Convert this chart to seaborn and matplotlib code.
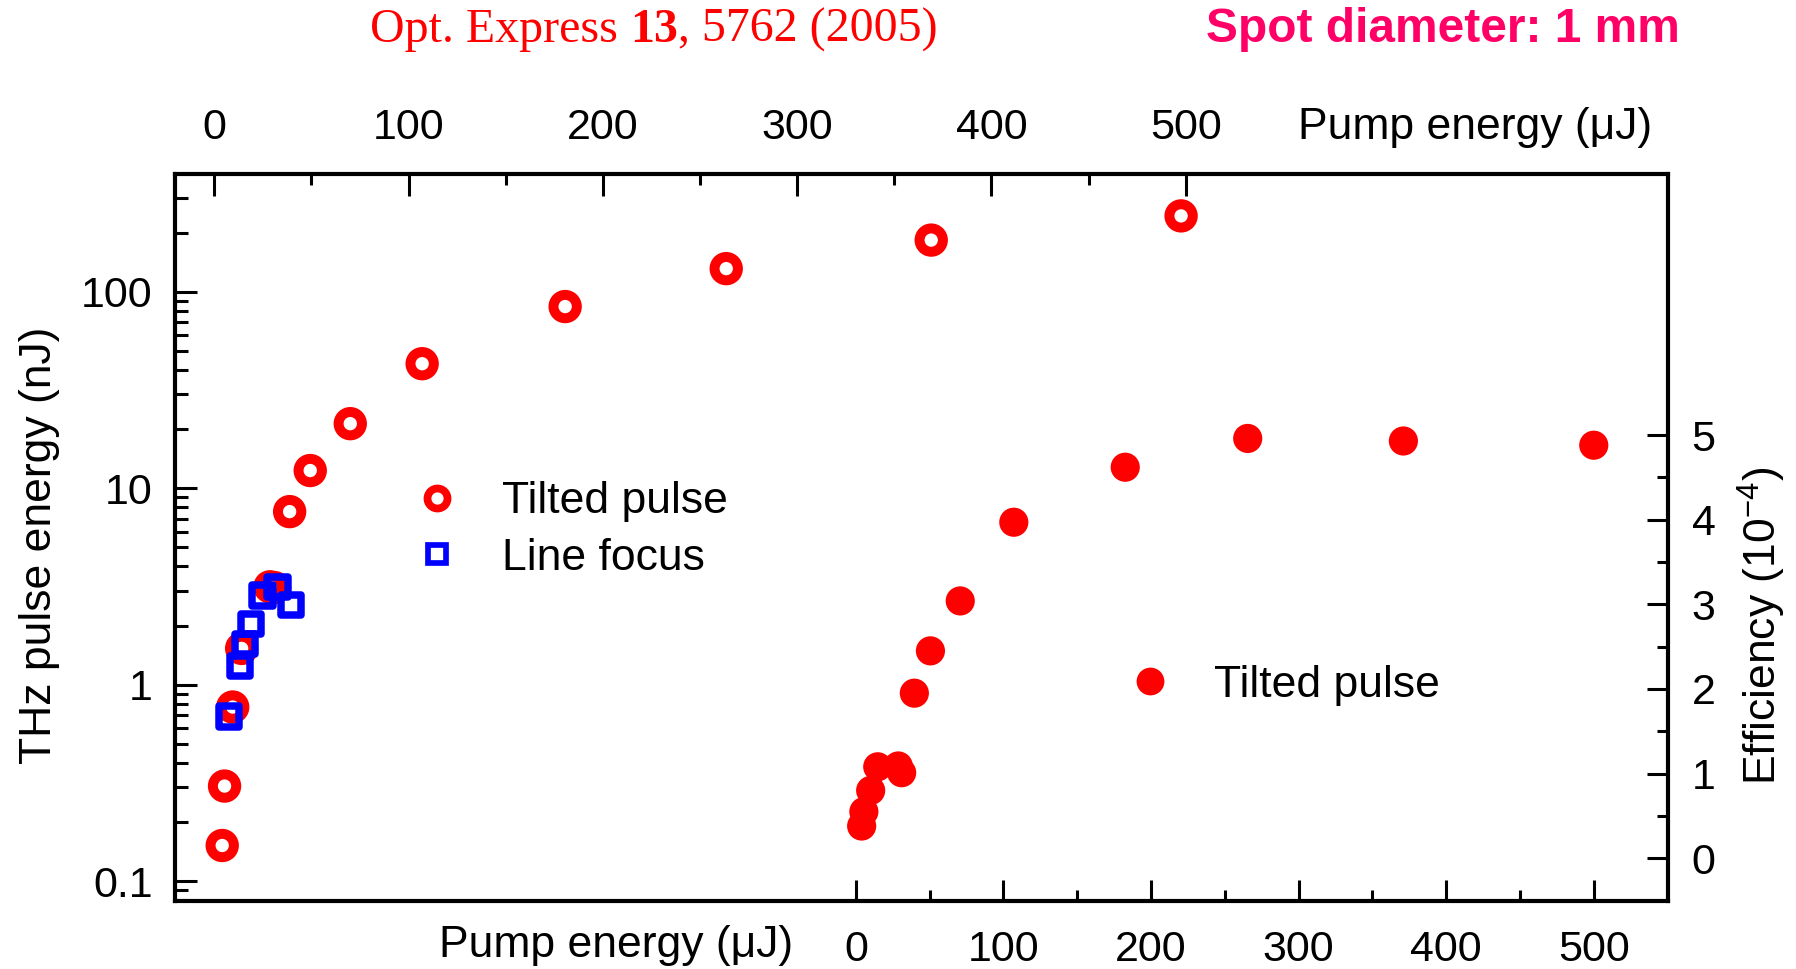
import numpy as np
import pandas as pd
import matplotlib
matplotlib.use("Agg")
import matplotlib.pyplot as plt
from matplotlib.lines import Line2D
from matplotlib.ticker import FixedLocator, NullFormatter, LogLocator, FixedFormatter
import seaborn as sns

# ---------------- data ----------------
# THz pulse energy vs pump energy (top axis), tilted pulse front
tp_pump = [4.1, 5.3, 9.5, 14.1, 28.7, 31.0, 38.8, 49.4, 70.0, 107.0, 180.6, 263.5, 369.0, 497.6]
tp_thz = [0.152, 0.305, 0.77, 1.53, 3.15, 3.12, 7.6, 12.3, 21.3, 43.0, 84.0, 131.0, 183.0, 243.0]
# line focus
lf_pump = [7.6, 13.2, 15.8, 18.8, 24.9, 32.6, 39.6]
lf_thz = [0.69, 1.24, 1.61, 2.04, 2.84, 3.13, 2.55]
# efficiency (1e-4) vs pump energy (bottom axis)
eff_pump = [3.9, 5.4, 10.0, 14.8, 28.7, 31.0, 39.6, 50.5, 70.7, 107.0, 182.5, 265.5, 371.0, 500.0]
eff_val = [0.38, 0.55, 0.80, 1.08, 1.09, 1.01, 1.95, 2.45, 3.04, 3.97, 4.62, 4.96, 4.93, 4.88]

top_ticks = [0, 100, 200, 300, 400, 500]
top_minor = [50, 150, 250, 350, 450]
left_ticks = [0.1, 1, 10, 100]
left_labels = ["0.1", "1", "10", "100"]
bot_ticks = [0, 100, 200, 300, 400, 500]
bot_minor = [50, 150, 250, 350, 450]
right_ticks = [0, 1, 2, 3, 4, 5]
right_minor = [0.5, 1.5, 2.5, 3.5, 4.5]

# ---------------- style ----------------
sns.set_style("white")
plt.rcParams["font.family"] = ["Liberation Sans", "DejaVu Sans"]
plt.rcParams["mathtext.fontset"] = "custom"
plt.rcParams["mathtext.rm"] = "Liberation Sans"
plt.rcParams["mathtext.it"] = "Liberation Sans:italic"
plt.rcParams["mathtext.bf"] = "Liberation Sans:bold"
for k in ["text.color", "axes.labelcolor", "xtick.color", "ytick.color",
          "xtick.labelcolor", "ytick.labelcolor", "axes.edgecolor"]:
    plt.rcParams[k] = "black"

W, H = 1796, 969
fig = plt.figure(figsize=(W / 100, H / 100), dpi=100)
fig.patch.set_facecolor("white")

L, R, T, B = 175, 1668, 174, 900.5
rect = [L / W, 1 - B / H, (R - L) / W, (B - T) / H]

ax = fig.add_axes(rect)
ax2 = fig.add_axes(rect, facecolor="none")

RED = "#FF0000"
BLUE = "#0000FF"
TICK_FS = 31
LAB_FS = 32

# ---------------- main axes (top x, left log y) ----------------
ax.set_yscale("log")
df_tp = pd.DataFrame({"pump": tp_pump, "thz": tp_thz})
df_lf = pd.DataFrame({"pump": lf_pump, "thz": lf_thz})
sns.scatterplot(data=df_tp, x="pump", y="thz", ax=ax, marker="o", s=16.8 ** 2,
                facecolor="none", edgecolor=RED, linewidth=7.2, legend=False, zorder=3)
sns.scatterplot(data=df_lf, x="pump", y="thz", ax=ax, marker="s", s=14.6 ** 2,
                facecolor="none", edgecolor=BLUE, linewidth=5.4, legend=False, zorder=4)
ax.set_xlim(-20.2, 748.2)
ax.set_ylim(0.0798, 397)
ax.set_xlabel("")
ax.set_ylabel("")

ax.xaxis.tick_top()
ax.xaxis.set_major_locator(FixedLocator(top_ticks))
ax.xaxis.set_minor_locator(FixedLocator(top_minor))
ax.set_xticklabels([str(t) for t in top_ticks])
ax.yaxis.set_major_locator(FixedLocator(left_ticks))
ax.yaxis.set_major_formatter(FixedFormatter(left_labels))
ax.yaxis.set_minor_locator(LogLocator(base=10, subs=np.arange(2, 10)))
ax.yaxis.set_minor_formatter(NullFormatter())

ax.tick_params(axis="x", which="both", direction="in", top=True, bottom=False,
               labeltop=True, labelbottom=False, width=2.2, pad=19, labelsize=TICK_FS,
               color="black", labelcolor="black")
ax.tick_params(axis="x", which="major", length=15.5)
ax.tick_params(axis="x", which="minor", length=8)
ax.tick_params(axis="y", which="both", direction="in", left=True, right=False,
               labelleft=True, labelright=False, width=2.2, pad=16, labelsize=TICK_FS,
               color="black", labelcolor="black")
ax.tick_params(axis="y", which="major", length=16)
ax.tick_params(axis="y", which="minor", length=9)
for sp in ax.spines.values():
    sp.set_linewidth(3)
    sp.set_color("black")

# ---------------- efficiency axes (bottom x, right y) ----------------
df_eff = pd.DataFrame({"pump": eff_pump, "eff": eff_val})
sns.scatterplot(data=df_eff, x="pump", y="eff", ax=ax2, marker="o", s=21 ** 2,
                color=RED, edgecolor="none", linewidth=0, legend=False, zorder=3)
ax2.set_xlim(-461.4, 550.3)
ax2.set_ylim(-0.5, 8.085)
ax2.set_xlabel("")
ax2.set_ylabel("")
ax2.xaxis.set_major_locator(FixedLocator(bot_ticks))
ax2.xaxis.set_minor_locator(FixedLocator(bot_minor))
ax2.set_xticklabels([str(t) for t in bot_ticks])
ax2.yaxis.tick_right()
ax2.yaxis.set_major_locator(FixedLocator(right_ticks))
ax2.yaxis.set_minor_locator(FixedLocator(right_minor))
ax2.set_yticklabels([str(t) for t in right_ticks])
ax2.tick_params(axis="x", which="both", direction="in", bottom=True, top=False,
                labelbottom=True, labeltop=False, width=2.2, pad=21, labelsize=TICK_FS,
                color="black", labelcolor="black")
ax2.tick_params(axis="x", which="major", length=15)
ax2.tick_params(axis="x", which="minor", length=8)
ax2.tick_params(axis="y", which="both", direction="in", right=True, left=False,
                labelright=True, labelleft=False, width=2.2, pad=17, labelsize=TICK_FS,
                color="black", labelcolor="black")
ax2.tick_params(axis="y", which="major", length=15)
ax2.tick_params(axis="y", which="minor", length=8)
for sp in ax2.spines.values():
    sp.set_visible(False)

# ---------------- legends ----------------
FS_PX = LAB_FS * 100 / 72
h1 = Line2D([], [], ls="none", marker="o", ms=14.4, mew=5.6, mfc="none", mec=RED)
h2 = Line2D([], [], ls="none", marker="s", ms=12.5, mew=4.1, mfc="none", mec=BLUE)
leg1 = ax.legend([h1, h2], ["Tilted pulse", "Line focus"], loc="center left",
                 bbox_to_anchor=((437 - FS_PX / 2) / W, 1 - 530 / H),
                 bbox_transform=fig.transFigure, frameon=False, fontsize=LAB_FS,
                 handlelength=1.0, handletextpad=0.96, borderpad=0, borderaxespad=0,
                 labelspacing=0.35)
h3 = Line2D([], [], ls="none", marker="o", ms=20, mew=0, mfc=RED, mec=RED)
leg2 = ax2.legend([h3], ["Tilted pulse"], loc="center left",
                  bbox_to_anchor=((1150 - FS_PX / 2) / W, 1 - 685 / H),
                  bbox_transform=fig.transFigure, frameon=False, fontsize=LAB_FS,
                  handlelength=1.0, handletextpad=0.94, borderpad=0, borderaxespad=0)

# ---------------- axis labels ----------------
fig.text(1298 / W, 1 - 127 / H, "Pump energy (\u03bcJ)", fontsize=LAB_FS,
         ha="left", va="center")
fig.text(616 / W, 1 - 946 / H, "Pump energy (\u03bcJ)", fontsize=LAB_FS,
         ha="center", va="center")
fig.text(40 / W, 1 - 545 / H, "THz pulse energy (nJ)", fontsize=LAB_FS,
         rotation=90, ha="center", va="center")
fig.text(1762 / W, 1 - 626 / H, "Efficiency (10$^{\\mathregular{-4}}$)", fontsize=LAB_FS,
         rotation=90, ha="center", va="center")

# ---------------- header texts ----------------
renderer = fig.canvas.get_renderer()
serif = ["Liberation Serif", "DejaVu Serif"]
parts = [("Opt. Express ", "normal"), ("13", "bold"), (", 5762 (2005)", "normal")]
x_px = 370
y_fr = 1 - 30 / H
for txt, wt in parts:
    t = fig.text(x_px / W, y_fr, txt, fontsize=34.5, family=serif, weight=wt,
                 color=RED, ha="left", va="center")
    bb = t.get_window_extent(renderer=renderer)
    x_px += bb.width
fig.text(1443 / W, 1 - 29 / H, "Spot diameter: 1 mm", fontsize=34.5, weight="bold",
         color="#FF0066", ha="center", va="center")

fig.savefig("out.png", dpi=100, facecolor="white")
